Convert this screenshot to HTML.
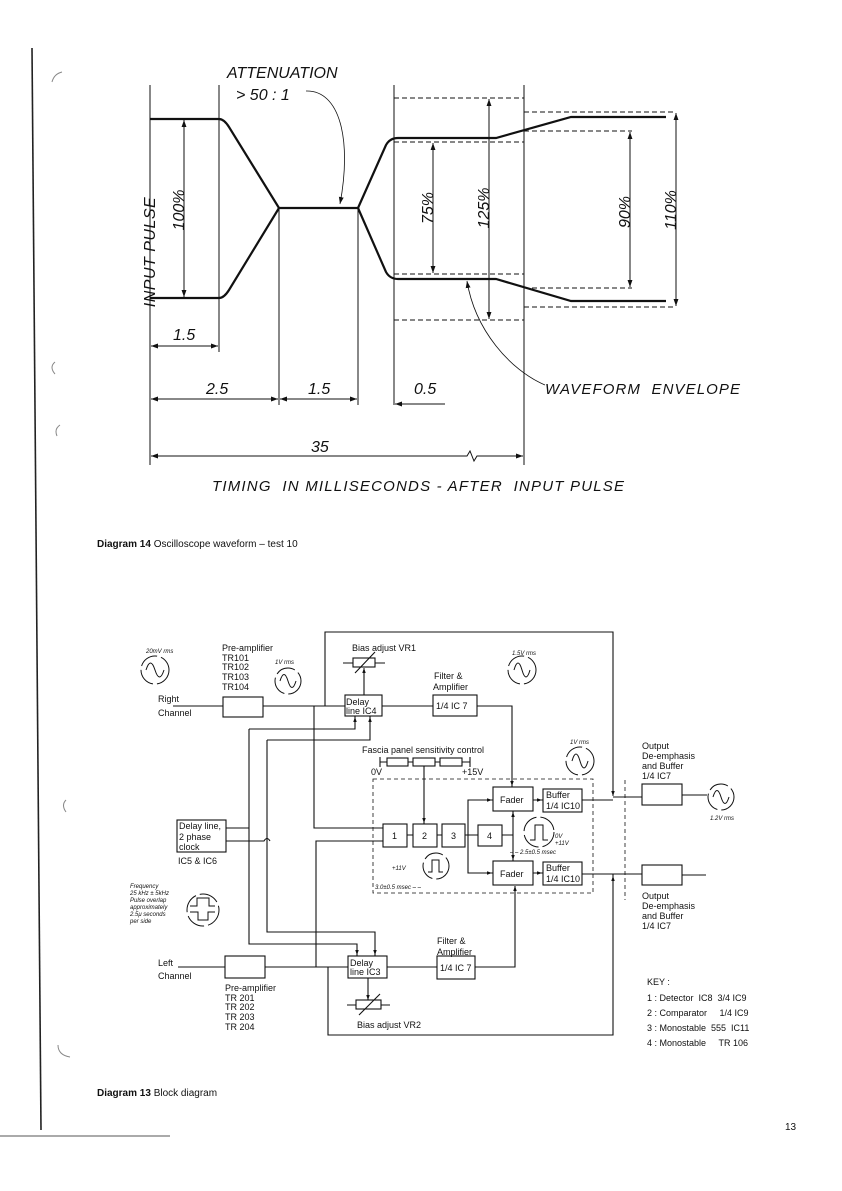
<!DOCTYPE html>
<html><head><meta charset="utf-8"><style>
html,body{margin:0;padding:0;background:#fff}
svg{display:block}
text{font-family:"Liberation Sans",sans-serif;fill:#111}
</style></head><body>
<svg width="842" height="1191" viewBox="0 0 842 1191" xmlns="http://www.w3.org/2000/svg">
<defs>
<marker id="a" viewBox="0 0 10 10" refX="10" refY="5" markerWidth="7" markerHeight="7" orient="auto-start-reverse" markerUnits="userSpaceOnUse"><path d="M0,1.5 L10,5 L0,8.5 z" fill="#111"/></marker>
<marker id="s" viewBox="0 0 10 10" refX="10" refY="5" markerWidth="5" markerHeight="5" orient="auto-start-reverse" markerUnits="userSpaceOnUse"><path d="M0,1.5 L10,5 L0,8.5 z" fill="#111"/></marker>
</defs>
<path d="M32,48 L41,1130" stroke="#222" stroke-width="1.6" fill="none"/>
<path d="M0,1136 L170,1136" stroke="#555" stroke-width="1"/>
<path d="M62,72 q-8,2 -10,10 M55,362 q-6,5 0,12 M60,425 q-6,4 -3,11 M66,800 q-5,5 0,12 M58,1045 q0,10 12,12" stroke="#888" fill="none"/>

<g stroke="#111" fill="none" stroke-width="1">
<path d="M150,85 V465 M219,85 V352 M279,208 V405 M358,208 V405 M394,85 V405 M524,85 V465"/>
</g>
<g stroke="#111" fill="none" stroke-width="2.2">
<path d="M150,119 H219 Q224,119 229,127 L279,208 H358 L386,145 Q390,138 398,138 H496 L571,117 H666"/>
<path d="M150,298 H219 Q224,298 229,290 L279,208 M358,208 L386,272 Q390,279 398,279 H496 L571,301 H666"/>
</g>
<g stroke="#111" fill="none" stroke-width="0.9" stroke-dasharray="5,3">
<path d="M394,98 H524 M394,142 H524 M394,274 H524 M394,320 H524 M524,112 H676 M524,131 H632 M524,288 H632 M524,307 H676"/>
</g>
<g stroke="#111" fill="none" stroke-width="1" marker-start="url(#a)" marker-end="url(#a)">
<path d="M184,120 V297"/><path d="M433,143 V273"/><path d="M489,99 V319"/><path d="M630,132 V287"/><path d="M676,113 V306"/>
<path d="M151,346 H218"/><path d="M151,399 H278"/><path d="M280,399 H357"/>
</g>
<path d="M445,404 H395" stroke="#111" marker-end="url(#a)"/>
<path d="M151,456 H467 L470,451 L474,461 L477,456 H523" stroke="#111" fill="none" marker-start="url(#a)" marker-end="url(#a)"/>
<g font-style="italic" font-size="16">
<text x="227" y="78">ATTENUATION</text>
<text x="236" y="100">&gt; 50 : 1</text>
<text transform="translate(155,252) rotate(-90)" text-anchor="middle" letter-spacing="0.5">INPUT PULSE</text>
<text transform="translate(184,210) rotate(-90)" text-anchor="middle">100%</text>
<text transform="translate(433,208) rotate(-90)" text-anchor="middle">75%</text>
<text transform="translate(489,208) rotate(-90)" text-anchor="middle">125%</text>
<text transform="translate(630,212) rotate(-90)" text-anchor="middle">90%</text>
<text transform="translate(676,210) rotate(-90)" text-anchor="middle">110%</text>
<text x="173" y="340">1.5</text>
<text x="206" y="394">2.5</text>
<text x="308" y="394">1.5</text>
<text x="414" y="394">0.5</text>
<text x="545" y="394" font-size="15" textLength="195" lengthAdjust="spacing">WAVEFORM&#160;&#160;ENVELOPE</text>
<text x="311" y="452">35</text>
<text x="212" y="491" font-size="15" textLength="412" lengthAdjust="spacing">TIMING&#160;&#160;IN MILLISECONDS - AFTER&#160;&#160;INPUT PULSE</text>
</g>
<path d="M306,91 C340,90 352,140 340,204" stroke="#111" stroke-width="0.8" fill="none" marker-end="url(#a)"/>
<path d="M545,385 C510,370 475,330 467,281" stroke="#111" stroke-width="0.8" fill="none" marker-end="url(#a)"/>
<text x="97" y="547" font-size="10"><tspan font-weight="bold">Diagram 14</tspan>  Oscilloscope waveform – test 10</text>

<g stroke="#111" fill="none" stroke-width="1.1">
<rect x="223" y="697" width="40" height="20"/>
<rect x="345" y="695" width="37" height="21"/>
<rect x="433" y="695" width="44" height="21"/>
<rect x="177" y="820" width="49" height="32"/>
<rect x="383" y="824" width="24" height="23"/>
<rect x="413" y="824" width="24" height="23"/>
<rect x="442" y="824" width="23" height="23"/>
<rect x="478" y="825" width="24" height="21"/>
<rect x="493" y="787" width="40" height="24"/>
<rect x="543" y="789" width="39" height="23"/>
<rect x="493" y="861" width="40" height="24"/>
<rect x="543" y="862" width="39" height="23"/>
<rect x="642" y="784" width="40" height="21"/>
<rect x="642" y="865" width="40" height="20"/>
<rect x="225" y="956" width="40" height="22"/>
<rect x="348" y="956" width="39" height="22"/>
<rect x="437" y="956" width="38" height="23"/>
<path d="M173,706 H223 M263,706 H345 M382,706 H433 M477,706 H512 V787"/>
<path d="M325,706 V632 H613 V795"/>
<path d="M364,695 V670"/>
<path d="M178,967 H225 M265,967 H348 M387,967 H437 M475,967 H515 V886"/>
<path d="M328,967 V1035 H613 V880"/>
<path d="M368,978 V1000"/>
<path d="M314,706 V828 H383"/>
<path d="M316,967 V841 H383"/>
<path d="M226,828 H249 M226,841 H264 q3,-5 6,0"/>
<path d="M249,729 H355 V716 M249,729 V944 H357 V956"/>
<path d="M267,740 H370 V716 M267,740 V932 H375 V956"/>
<path d="M380,757 V767 M380,762 H387 M408,762 H413 M435,762 H440 M462,762 H470 M470,757 V767"/>
<rect x="387" y="758" width="21" height="8"/><rect x="413" y="758" width="22" height="8"/><rect x="440" y="758" width="22" height="8"/>
<path d="M424,766 V824"/>
<path d="M407,835 H413 M437,835 H442 M465,835 H478 M468,835 V800 H493 M468,835 V873 H493 M502,835 H513"/>
<path d="M513,811 V861 M533,800 H543 M533,873 H543"/>
<path d="M582,800 H613 M582,874 H613 M613,797 H642 M613,874 H642 M682,795 H707 M682,875 H706"/>
<path d="M613,874 V880"/>
<rect x="353" y="658" width="22" height="9"/><path d="M343,663 H353 M375,663 H385 M355,673 L375,652"/>
<rect x="356" y="1000" width="25" height="9"/><path d="M347,1005 H356 M381,1005 H390 M359,1015 L380,994"/>
</g>
<g stroke="#111" fill="none" stroke-width="0.8" stroke-dasharray="4,3">
<rect x="373" y="779" width="220" height="114"/>
<path d="M625,780 V900"/>
</g>
<g stroke="#111" stroke-width="1" fill="none">
<path d="M355,729 V717" marker-end="url(#s)"/><path d="M370,740 V717" marker-end="url(#s)"/>
<path d="M357,944 V955" marker-end="url(#s)"/><path d="M375,932 V955" marker-end="url(#s)"/>
<path d="M364,680 V668" marker-end="url(#s)"/><path d="M368,990 V1000" marker-end="url(#s)"/>
<path d="M480,800 H492" marker-end="url(#s)"/><path d="M480,873 H492" marker-end="url(#s)"/>
<path d="M537,800 H542" marker-end="url(#s)"/><path d="M537,873 H542" marker-end="url(#s)"/>
<path d="M512,780 V786" marker-end="url(#s)"/><path d="M515,893 V886" marker-end="url(#s)"/>
<path d="M513,825 V812" marker-end="url(#s)"/><path d="M513,845 V860" marker-end="url(#s)"/>
<path d="M613,786 V796" marker-end="url(#s)"/><path d="M613,888 V876" marker-end="url(#s)"/>
<path d="M424,812 V823" marker-end="url(#s)"/>
</g>
<g stroke="#111" fill="none" stroke-width="1">
<circle cx="155" cy="670" r="14" stroke-dasharray="20,4"/><path d="M146,670 q4.5,-14 9,0 t9,0"/>
<circle cx="288" cy="681" r="13" stroke-dasharray="20,4"/><path d="M280,681 q4,-13 8,0 t8,0"/>
<circle cx="522" cy="670" r="14" stroke-dasharray="20,4"/><path d="M514,670 q4,-14 8,0 t8,0"/>
<circle cx="580" cy="761" r="14" stroke-dasharray="20,4"/><path d="M572,761 q4,-14 8,0 t8,0"/>
<circle cx="721" cy="797" r="13" stroke-dasharray="20,4"/><path d="M713,797 q4,-13 8,0 t8,0"/>
<circle cx="203" cy="910" r="16" stroke-dasharray="20,4"/><path d="M190,906 h7 v-8 h12 v8 h6 M190,912 h8 v8 h10 v-8 h7"/>
<circle cx="436" cy="866" r="13" stroke-dasharray="20,4"/><path d="M428,872 h4 v-12 h7 v12 h4"/>
<circle cx="539" cy="832" r="15" stroke-dasharray="20,4"/><path d="M530,840 h5 v-15 h8 v15 h5"/>
</g>
<g font-size="9">
<text x="222" y="651">Pre-amplifier</text><text x="222" y="661">TR101</text><text x="222" y="670">TR102</text><text x="222" y="680">TR103</text><text x="222" y="690">TR104</text>
<text x="158" y="702">Right</text><text x="158" y="716">Channel</text>
<text x="352" y="651">Bias adjust VR1</text>
<text x="434" y="679">Filter &amp;</text><text x="433" y="690">Amplifier</text>
<text x="346" y="705">Delay</text><text x="346" y="714">line IC4</text>
<text x="436" y="709">1/4 IC 7</text>
<text x="362" y="753">Fascia panel sensitivity control</text>
<text x="371" y="775">0V</text><text x="462" y="775">+15V</text>
<text x="179" y="829">Delay line,</text><text x="179" y="840">2 phase</text><text x="179" y="850">clock</text>
<text x="178" y="864">IC5 &amp; IC6</text>
<text x="392" y="839">1</text><text x="422" y="839">2</text><text x="451" y="839">3</text><text x="487" y="839">4</text>
<text x="500" y="803">Fader</text><text x="500" y="877">Fader</text>
<text x="546" y="798">Buffer</text><text x="546" y="809">1/4 IC10</text>
<text x="546" y="871">Buffer</text><text x="546" y="882">1/4 IC10</text>
<text x="642" y="749">Output</text><text x="642" y="759">De-emphasis</text><text x="642" y="769">and Buffer</text><text x="642" y="779">1/4 IC7</text>
<text x="642" y="899">Output</text><text x="642" y="909">De-emphasis</text><text x="642" y="919">and Buffer</text><text x="642" y="929">1/4 IC7</text>
<text x="158" y="966">Left</text><text x="158" y="979">Channel</text>
<text x="437" y="944">Filter &amp;</text><text x="437" y="955">Amplifier</text>
<text x="350" y="966">Delay</text><text x="350" y="975">line IC3</text>
<text x="440" y="971">1/4 IC 7</text>
<text x="225" y="991">Pre-amplifier</text><text x="225" y="1001">TR 201</text><text x="225" y="1010">TR 202</text><text x="225" y="1020">TR 203</text><text x="225" y="1030">TR 204</text>
<text x="357" y="1028">Bias adjust VR2</text>
<text x="647" y="985">KEY :</text>
<text x="647" y="1001">1 : Detector&#160;&#160;IC8&#160;&#160;3/4 IC9</text>
<text x="647" y="1016">2 : Comparator&#160;&#160;&#160;&#160;&#160;1/4 IC9</text>
<text x="647" y="1031">3 : Monostable&#160;&#160;555&#160;&#160;IC11</text>
<text x="647" y="1046">4 : Monostable&#160;&#160;&#160;&#160;&#160;TR 106</text>
</g>
<g font-size="6" font-style="italic" fill="#555">
<text x="146" y="653">20mV rms</text><text x="275" y="664">1V rms</text><text x="512" y="655">1.5V rms</text>
<text x="570" y="744">1V rms</text><text x="710" y="820">1.2V rms</text>
<text x="130" y="888">Frequency</text><text x="130" y="895">25 kHz ± 5kHz</text><text x="130" y="902">Pulse overlap</text><text x="130" y="909">approximately</text><text x="130" y="916">2.5μ seconds</text><text x="130" y="923">per side</text>
<text x="375" y="889">3.0±0.5 msec – –</text><text x="510" y="854">– – 2.5±0.5 msec</text>
<text x="555" y="838">0V</text><text x="555" y="845">+11V</text><text x="392" y="870">+11V</text>
</g>
<text x="97" y="1096" font-size="10"><tspan font-weight="bold">Diagram 13</tspan>  Block diagram</text>
<text x="785" y="1130" font-size="10">13</text>
</svg>
</body></html>
